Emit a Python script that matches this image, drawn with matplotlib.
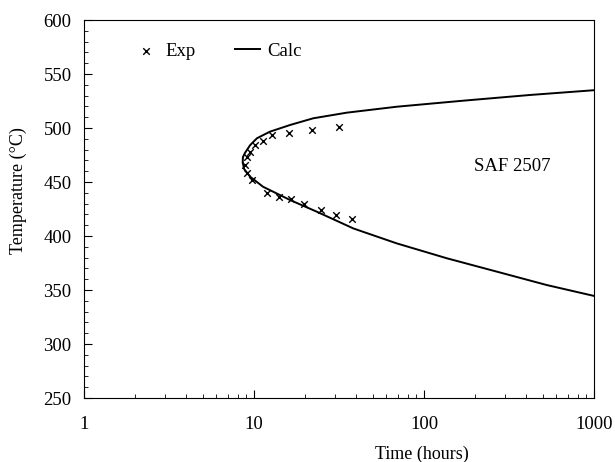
import numpy as np
import matplotlib.pyplot as plt
from matplotlib.ticker import FixedLocator, NullFormatter

plt.rcParams['font.family'] = ['Liberation Serif', 'DejaVu Serif']

# measured sigma-phase start (hours, degC)
exp_time = [31.8, 21.9, 16.0, 12.8, 11.3, 10.1, 9.47, 9.06, 8.85, 9.06, 9.69,
            12.0, 14.1, 16.4, 19.7, 24.9, 30.4, 37.9]
exp_temp = [501, 498, 495, 493.5, 488, 484, 478, 473, 466, 458, 452,
            439.5, 436.5, 434, 429.5, 424.5, 419.5, 416]

# calculated C-curve, traced from upper branch round the nose to lower branch
calc_time = [1000, 421, 170, 69, 35.1, 22.3, 16.3, 12.4, 10.4, 9.47, 8.85,
             8.6, 8.58, 8.75, 9.47, 11.3, 16.3, 23.4, 38.4, 69, 136, 268,
             527, 1000]
calc_temp = [535, 530.6, 525.3, 519.7, 514.2, 509, 502.8, 496.6, 490.5, 484,
             477, 473, 468, 462, 455, 445.6, 433.3, 422.5, 407, 393.2, 379.4,
             367, 354.6, 344.5]

fig = plt.figure(figsize=(6.15, 4.62), dpi=100)
ax = fig.add_axes([0.1366, 0.1385, 0.8294, 0.8182])

ax.plot(calc_time, calc_temp, color='black', lw=1.4, label='Calc')
ax.scatter(exp_time, exp_temp, marker='x', color='black', s=22, lw=1.0,
           label='Exp', zorder=3)

ax.set_xscale('log')
ax.set_xlim(1, 1000)
ax.set_ylim(250, 600)
ax.set_yticks(np.arange(250, 601, 50))
ax.set_xticks([1, 10, 100, 1000])
ax.set_xticklabels(['1', '10', '100', '1000'])
ax.yaxis.set_minor_locator(FixedLocator(np.arange(250, 601, 10)))
ax.xaxis.set_minor_formatter(NullFormatter())

ax.tick_params(which='major', direction='in', length=6, width=0.8,
               labelsize=13.5)
ax.tick_params(axis='y', which='major', pad=9)
ax.tick_params(axis='x', which='major', pad=13)
ax.tick_params(which='minor', direction='in', length=3, width=0.6)
for s in ax.spines.values():
    s.set_linewidth(0.8)

ax.set_xlabel('Time (hours)', fontsize=13, labelpad=9)
ax.set_ylabel('Temperature (°C)', fontsize=13, labelpad=12)
# axis titles sit off-centre
ax.xaxis.label.set_x(0.663)
ax.yaxis.label.set_y(0.548)

ax.text(330, 464, 'SAF 2507', fontsize=13.5, ha='center', va='center')

h, l = ax.get_legend_handles_labels()
ax.legend(h[::-1], l[::-1], ncol=2, frameon=False, loc='upper left',
          bbox_to_anchor=(0.072, 0.975), fontsize=13.5, handlelength=1.3,
          columnspacing=2.1, handletextpad=0.4, borderpad=0.2)

fig.savefig('out.png', dpi=100)
